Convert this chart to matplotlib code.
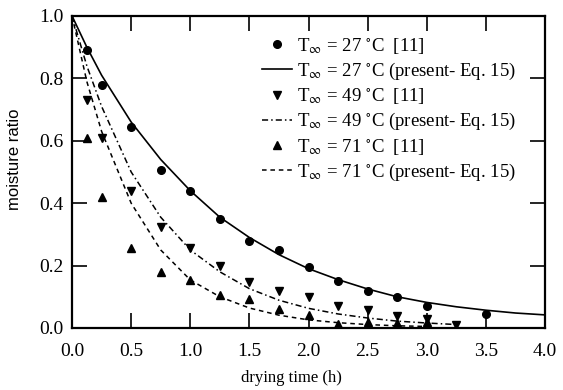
import matplotlib
matplotlib.use('Agg')
import matplotlib.pyplot as plt

plt.rcParams['font.family'] = ['Liberation Serif', 'DejaVu Serif']
plt.rcParams['mathtext.fontset'] = 'stix'

# experimental data [11]
t_27 = [0.125, 0.25, 0.5, 0.75, 1.0, 1.25, 1.5, 1.75, 2.0, 2.25, 2.5, 2.75, 3.0, 3.5]
mr_27 = [0.89, 0.78, 0.645, 0.505, 0.44, 0.35, 0.28, 0.25, 0.195, 0.15, 0.12, 0.10, 0.07, 0.045]

t_49 = [0.125, 0.25, 0.5, 0.75, 1.0, 1.25, 1.5, 1.75, 2.0, 2.25, 2.5, 2.75, 3.0, 3.25]
mr_49 = [0.73, 0.61, 0.44, 0.325, 0.256, 0.20, 0.147, 0.119, 0.10, 0.072, 0.058, 0.04, 0.03, 0.01]

t_71 = [0.125, 0.25, 0.5, 0.75, 1.0, 1.25, 1.5, 1.75, 2.0, 2.25, 2.5, 2.75, 3.0]
mr_71 = [0.61, 0.42, 0.256, 0.18, 0.154, 0.106, 0.092, 0.062, 0.042, 0.012, 0.018, 0.016, 0.02]

# model curves (present - Eq. 15)
tc = [0.0, 0.125, 0.25, 0.5, 0.75, 1.0, 1.25, 1.5, 1.75, 2.0, 2.25, 2.5, 2.75, 3.0, 3.25, 3.5, 3.75, 4.0]
fit_27 = [1.0, 0.90, 0.81, 0.66, 0.54, 0.44, 0.355, 0.29, 0.235, 0.19, 0.155, 0.125, 0.10, 0.082, 0.068, 0.057, 0.048, 0.042]
tc_49 = tc[:15]
fit_49 = [1.0, 0.84, 0.71, 0.50, 0.355, 0.25, 0.18, 0.126, 0.089, 0.063, 0.045, 0.032, 0.022, 0.016, 0.011]
tc_71 = tc[:14]
fit_71 = [1.0, 0.79, 0.63, 0.40, 0.25, 0.154, 0.10, 0.064, 0.041, 0.026, 0.017, 0.011, 0.007, 0.005]

fig = plt.figure(figsize=(5.63, 3.9), dpi=100)
ax = fig.add_axes([0.128, 0.159, 0.84, 0.8])

lbl = r'T$_{\infty}$ = %d $^{\circ}$C'
ax.plot(t_27, mr_27, 'o', color='black', ms=5.5, label=lbl % 27 + '  [11]')
ax.plot(tc, fit_27, '-', color='black', lw=1.2, label=lbl % 27 + ' (present- Eq. 15)')
ax.plot(t_49, mr_49, 'v', color='black', ms=5.5, label=lbl % 49 + '  [11]')
ax.plot(tc_49, fit_49, color='black', lw=1.1, dashes=(4, 2, 1, 2), label=lbl % 49 + ' (present- Eq. 15)')
ax.plot(t_71, mr_71, '^', color='black', ms=5.5, label=lbl % 71 + '  [11]')
ax.plot(tc_71, fit_71, color='black', lw=1.1, dashes=(3, 2.5), label=lbl % 71 + ' (present- Eq. 15)')

ax.set_xlim(0, 4.0)
ax.set_ylim(0, 1.0)
ax.set_xticks([0.0, 0.5, 1.0, 1.5, 2.0, 2.5, 3.0, 3.5, 4.0])
ax.set_yticks([0.0, 0.2, 0.4, 0.6, 0.8, 1.0])
ax.tick_params(direction='in', length=11, width=1.2, top=True, right=True, labelsize=14)
ax.tick_params(axis='x', pad=11)
ax.tick_params(axis='y', pad=6)
for s in ax.spines.values():
    s.set_linewidth(1.6)

ax.set_xlabel('drying time (h)', fontsize=12)
ax.xaxis.set_label_coords(0.463, -0.135)
ax.set_ylabel('moisture ratio', fontsize=12, family=['Liberation Sans', 'DejaVu Sans'])
ax.yaxis.set_label_coords(-0.105, 0.54)

ax.legend(loc='upper left', bbox_to_anchor=(0.385, 0.96), frameon=False, fontsize=13.5,
          handlelength=1.6, handletextpad=0.3, labelspacing=0.25, borderaxespad=0)

fig.savefig('out.png', dpi=100)
